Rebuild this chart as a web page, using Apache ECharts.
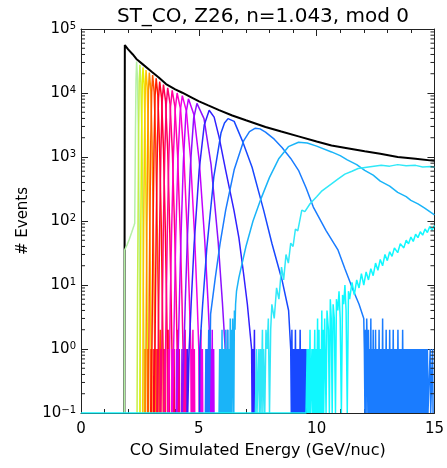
<!DOCTYPE html>
<html>
<head>
<meta charset="utf-8">
<script src="https://cdn.jsdelivr.net/npm/echarts@6/dist/echarts.min.js"></script>
<style>html,body{margin:0;padding:0;background:#fff}#c{width:447px;height:468px}</style>
</head>
<body>
<div id="c"></div>
<script>
// ---------- text ----------
const titleText = 'ST_CO, Z26, n=1.043, mod 0';
const xTitle = 'CO Simulated Energy (GeV/nuc)';
const yTitle = '# Events';
const xTickValues = [0, 5, 10, 15];
const yTickExponents = [-1, 0, 1, 2, 3, 4, 5];

// ---------- series (x = GeV/nuc, y = events; 0.1 = empty bin at the floor) ----------
const total = [[1.84,0.1],[1.85,35],[1.86,56000],[2.0,48000],[2.2,40000],[2.35,34000],[2.6,28500],[3.0,21500],[3.3,17500],[3.61,13800],[4.0,11400],[4.3,10100],[4.7,8500],[5.01,7400],[5.4,6400],[5.86,5400],[6.42,4450],[7.0,3750],[7.83,2950],[8.5,2500],[9.23,2100],[10.0,1750],[10.63,1510],[11.3,1370],[12.04,1230],[12.7,1120],[13.44,1000],[14.2,940],[15,870]];
const c01 = [[1.84,0.1],[1.85,35],[1.95,42],[2.05,52],[2.15,66],[2.25,85],[2.28,92],[2.31,2340],[2.335,16200],[2.36,30900],[2.40,16200],[2.435,2340],[2.47,92],[2.495,7],[2.51,1],[2.52,0.1]];
const c02 = [[2.38,0.1],[2.39,1],[2.40,7],[2.42,88],[2.445,2140],[2.47,14500],[2.50,27500],[2.54,14500],[2.585,2140],[2.63,88],[2.65,7],[2.67,1],[2.68,0.1],[2.70,1],[2.71,0.1]];
const c03 = [[2.50,0.1],[2.51,1],[2.52,6.9],[2.54,84],[2.57,2000],[2.60,13300],[2.63,25100],[2.68,13300],[2.725,2000],[2.77,84],[2.80,6.9],[2.82,1],[2.83,0.1],[2.85,1],[2.86,0.1]];
const c04 = [[2.62,0.1],[2.63,1],[2.64,6.7],[2.66,81],[2.695,1860],[2.73,12200],[2.76,22900],[2.81,12200],[2.865,1860],[2.92,81],[2.95,6.7],[2.97,1],[2.98,0.1],[3.00,1],[3.01,0.1]];
const c05 = [[2.71,0.1],[2.72,1],[2.735,0.1],[2.76,1],[2.775,6.6],[2.795,78],[2.83,1740],[2.865,11200],[2.90,20900],[2.96,11200],[3.015,1740],[3.07,78],[3.105,6.6],[3.13,1],[3.14,0.1],[3.16,1],[3.175,0.1],[3.20,1],[3.215,0.1]];
const c06 = [[2.83,0.1],[2.845,1],[2.86,0.1],[2.88,1],[2.895,6.5],[2.92,75],[2.96,1620],[3.00,10300],[3.04,19100],[3.105,10300],[3.17,1620],[3.235,75],[3.275,6.5],[3.30,1],[3.31,0.1],[3.33,1],[3.345,0.1],[3.37,2],[3.385,0.1]];
const c07 = [[2.96,0.1],[2.975,1],[2.99,0.1],[3.01,1],[3.03,6.4],[3.055,71],[3.10,1480],[3.145,9250],[3.19,17000],[3.26,9250],[3.335,1480],[3.41,71],[3.45,6.4],[3.48,1],[3.49,0.1],[3.515,1],[3.53,0.1],[3.56,1],[3.575,0.1]];
const c08 = [[3.08,0.1],[3.095,1],[3.11,0.1],[3.14,1],[3.16,6.2],[3.19,68],[3.24,1360],[3.29,8300],[3.34,15100],[3.42,8300],[3.50,1360],[3.58,68],[3.63,6.2],[3.66,1],[3.67,0.1],[3.695,2],[3.71,0.1],[3.74,1],[3.755,0.1]];
const c09 = [[3.22,0.1],[3.235,1],[3.25,0.1],[3.28,1],[3.30,6.1],[3.335,64],[3.39,1250],[3.445,7400],[3.50,13500],[3.59,7400],[3.68,1250],[3.77,64],[3.825,6.1],[3.86,1],[3.875,0.1],[3.90,1],[3.915,0.1],[3.95,1],[3.965,0.1]];
const c10 = [[3.36,0.1],[3.375,1],[3.39,0.1],[3.43,1],[3.455,6],[3.49,61],[3.555,1150],[3.62,6700],[3.68,12000],[3.78,6700],[3.88,1150],[3.98,61],[4.04,6],[4.08,1],[4.095,0.1],[4.12,2],[4.135,0.1],[4.17,1],[4.185,0.1]];
const c11 = [[3.52,0.1],[3.535,1],[3.55,0.1],[3.59,1],[3.62,5.9],[3.66,59],[3.73,1070],[3.80,6150],[3.87,11000],[3.985,6150],[4.10,1070],[4.215,59],[4.285,5.9],[4.33,1],[4.345,0.1],[4.37,1],[4.385,0.1],[4.42,2],[4.435,0.1],[4.48,1],[4.495,0.1]];
const c12 = [[3.69,0.1],[3.705,1],[3.72,0.1],[3.76,1],[3.79,5.8],[3.84,56],[3.92,1000],[4.00,5600],[4.08,10000],[4.225,5600],[4.37,1000],[4.515,56],[4.60,5.8],[4.66,1],[4.675,0.1],[4.70,1],[4.715,0.1],[4.75,2],[4.765,0.1],[4.81,1],[4.825,0.1]];
const c13 = [[3.85,0.1],[3.865,1],[3.88,0.1],[3.93,1],[3.97,5.7],[4.02,54],[4.115,930],[4.21,5160],[4.30,9100],[4.475,5160],[4.65,930],[4.825,54],[4.93,5.7],[5.00,1],[5.015,0.1],[5.04,1],[5.055,0.1],[5.09,2],[5.105,0.1],[5.15,1],[5.165,0.1]];
const c14 = [[4.04,0.1],[4.055,1],[4.07,0.1],[4.13,1],[4.175,5.5],[4.24,51],[4.345,850],[4.45,4630],[4.56,8100],[4.79,4630],[5.02,850],[5.25,51],[5.39,5.5],[5.48,1],[5.495,0.1],[5.52,1],[5.535,0.1],[5.57,2],[5.585,0.1],[5.63,1],[5.645,0.1]];
const c15 = [[4.27,0.1],[4.285,1],[4.30,0.1],[4.37,1],[4.425,5.4],[4.51,48],[4.645,760],[4.78,3980],[4.92,6900],[5.22,3980],[5.52,760],[5.82,48],[6.0,5.4],[6.12,1],[6.135,0.1],[6.16,1],[6.175,0.1],[6.21,2],[6.225,0.1],[6.28,1],[6.295,0.1]];
const c16 = [[4.50,0.1],[4.515,1],[4.53,0.1],[4.59,1],[4.675,5.1],[4.80,43],[5.015,630],[5.23,3150],[5.44,5370],[5.65,4200],[5.86,2040],[6.14,620],[6.49,148],[6.7,55],[6.9,15],[7.06,5],[7.24,1],[7.26,0.1],[7.30,1],[7.32,0.1],[7.36,2],[7.38,0.1]];
const c17 = [[5.03,0.1],[5.04,1],[5.16,4.8],[5.34,38],[5.64,500],[5.94,2370],[6.09,3400],[6.24,3980],[6.5,3600],[6.84,1820],[7.26,690],[7.75,148],[8.1,45],[8.53,12],[8.81,4],[8.9,1],[8.925,0.1],[8.95,2],[8.975,0.1],[9.0,1],[9.025,0.1],[9.05,1],[9.075,0.1],[9.1,2],[9.125,0.1],[9.15,1],[9.175,0.1],[9.2,1],[9.225,0.1],[9.25,1],[9.275,0.1],[9.3,2],[9.325,0.1],[9.35,1],[9.375,0.1],[9.4,1],[9.425,0.1],[9.45,1],[9.475,0.1],[9.5,1],[9.525,0.1],[9.55,1],[9.575,0.1],[9.62,1],[9.645,0.1]];
const c18 = [[5.28,0.1],[5.30,1],[5.32,0.1],[5.36,1],[5.38,0.1],[5.42,2],[5.44,0.1],[5.5,3.5],[5.7,13],[5.9,44],[6.14,148],[6.5,630],[6.9,1780],[7.15,2500],[7.40,2820],[7.6,2750],[7.83,2450],[8.2,1900],[8.53,1410],[8.9,950],[9.23,620],[9.55,330],[9.86,165],[10.4,71],[10.91,35],[11.2,18],[11.55,8.3],[11.8,5],[12.0,3],
  [12.025,1],[12.05,0.1],[12.075,2],[12.1,0.1],[12.125,3],[12.15,1],[12.175,0.1],[12.2,2],[12.225,0.1],[12.25,1],[12.275,0.1],[12.3,3],[12.325,0.1],[12.35,1],[12.375,0.1],[12.4,2],[12.425,0.1],[12.45,1],[12.475,0.1],[12.5,2],[12.525,0.1],[12.55,1],[12.575,0.1],[12.6,1],[12.625,0.1],[12.65,2],[12.675,0.1],[12.7,1],[12.725,0.1],[12.75,1],[12.775,0.1],[12.8,3],[12.825,0.1],[12.85,1],[12.875,0.1],[12.9,1],[12.925,0.1],[12.95,2],[12.975,0.1],[13.0,1],[13.025,0.1],[13.05,1],[13.075,0.1],[13.1,2],[13.125,0.1],[13.15,1],[13.175,0.1],[13.2,1],[13.225,0.1],[13.25,2],[13.275,0.1],[13.3,1],[13.325,0.1],[13.35,1],[13.375,0.1],[13.4,1],[13.425,0.1],[13.45,2],[13.475,0.1],[13.5,1],[13.525,0.1],[13.55,1],[13.575,0.1],[13.6,1],[13.625,0.1],[13.65,2],[13.675,0.1],[13.7,1],[13.725,0.1],[13.75,1],[13.775,0.1],[13.8,1],[13.825,0.1],[13.85,1],[13.875,0.1],[13.9,1],[13.925,0.1],[13.95,1],[13.975,0.1],[14.0,1],[14.025,0.1],[14.05,1],[14.075,0.1],[14.1,1],[14.125,0.1],[14.15,1],[14.175,0.1],[14.2,1],[14.225,0.1],[14.25,1],[14.275,0.1],[14.3,1],[14.325,0.1],[14.35,1],[14.375,0.1],[14.4,1],[14.425,0.1],[14.45,1],[14.475,0.1],[14.5,1],[14.525,0.1],[14.55,1],[14.575,0.1],[14.6,1],[14.625,0.1],[14.65,1],[14.675,0.1],[14.7,1],[14.725,0.1],[14.8,0.1],[14.82,1],[14.84,0.1],[14.9,0.1],[14.92,1],[14.94,0.1]];
const c19 = [[5.86,0.1],[5.885,1],[5.91,0.1],[5.935,1],[5.96,0.1],[5.985,2],[6.01,0.1],[6.035,1],[6.06,0.1],[6.085,1],[6.11,0.1],[6.135,2],[6.16,0.1],[6.185,1],[6.21,0.1],[6.235,2],[6.26,0.1],[6.285,1],[6.31,0.1],[6.335,3],[6.36,0.1],[6.385,2],[6.41,0.1],[6.435,3],[6.46,1],[6.485,0.1],[6.51,4],[6.535,2],[6.56,5],[6.6,8],[6.70,13],[7.0,40],[7.3,100],[7.61,210],[8.0,480],[8.4,950],[8.8,1450],[9.23,1700],[9.6,1650],[10.0,1480],[10.63,1200],[11.0,1050],[11.3,900],[11.7,760],[12.04,620],[12.4,520],[12.7,420],[13.1,350],[13.44,280],[13.8,240],[14.0,210],[14.3,185],[14.57,160],[15.0,125]];
const c20 = [[7.40,0.1],[7.45,1],[7.47,0.1],[7.55,1],[7.57,0.1],[7.62,1],[7.64,0.1],[7.70,2],[7.72,0.1],[7.75,1],[7.80,0.1],[7.85,2],[7.90,1],[7.95,3],[8.0,0.1],[8.05,2],[8.1,5],[8.2,3],[8.3,9],[8.4,6],[8.51,19],[8.6,12],[8.7,30],[8.8,22],[8.9,45],[9.0,40],[9.1,75],[9.2,70],[9.37,148],[9.5,140],[9.72,186],[10.0,240],[10.2,290],[10.4,330],[10.63,380],[10.9,450],[11.2,540],[11.5,600],[11.76,660],[12.2,700],[12.74,740],[13.1,720],[13.44,760],[13.8,730],[14.2,740],[14.5,700],[14.85,710],[15.0,690]];
const c21 = [[0,0.1],[9.55,0.1],[9.6,1],[9.62,0.1],[9.66,1],[9.68,0.1],[9.72,2],[9.74,0.1],[9.8,1],[9.82,0.1],[9.86,1],[9.88,0.1],[9.92,2],[9.94,0.1],[9.98,1],[10.0,0.1],[10.04,3],[10.06,0.1],[10.1,2],[10.12,0.1],[10.16,1],[10.18,0.1],[10.22,4],[10.24,0.1],[10.28,2],[10.3,0.1],[10.34,3],[10.36,1],[10.4,0.1],[10.44,4],[10.5,2],[10.54,0.1],[10.58,6],[10.62,3],[10.66,0.1],[10.7,5],[10.75,3],[10.8,0.1],[10.84,6],[10.9,4],[10.95,8],[11.0,3],[11.05,0.1],[11.1,7],[11.15,5],[11.2,10],[11.25,4],[11.3,0.1],[11.35,8],[11.4,6],[11.5,11],[11.6,7],[11.7,12],[11.8,9],[11.9,15],[12.0,10],[12.1,16],[12.2,12],[12.3,18],[12.4,14],[12.5,22],[12.6,17],[12.7,25],[12.8,20],[12.9,30],[13.0,24],[13.1,33],[13.2,28],[13.3,38],[13.44,32],[13.55,44],[13.7,38],[13.8,50],[13.9,44],[14.0,56],[14.1,48],[14.2,62],[14.3,55],[14.4,68],[14.5,60],[14.6,75],[14.7,66],[14.8,82],[14.9,72],[15.0,85]];

const curves = [c01,c02,c03,c04,c05,c06,c07,c08,c09,c10,c11,c12,c13,c14,c15,c16,c17,c18,c19,c20,c21];
const curveColors = ['#b4f0a4','#c4f048','#e6f000','#ffc400','#ff8c00','#ff5400','#ff1e00','#ff0024','#ff004c','#ff0074','#ff009c','#ff00c4','#f000e8','#c000ff','#8c10ff','#3220ff','#1848ff','#1a7cff','#1ab4f8','#30e8f8','#10f8ff'];
const totalColor = '#000000';

// ---------- chart ----------
const FONT = 'DejaVu Sans';
const supMap = v => String(v).replace('-', '\u2212');

const chart = echarts.init(document.getElementById('c'), null, {renderer: 'canvas'});
const axisLineStyle = {color: '#222', width: 1};
const grid = {left: 81, right: 10, top: 29, bottom: 55};

const series = [{
  type: 'line', data: total, symbol: 'none', showSymbol: false, silent: true,
  lineStyle: {color: totalColor, width: 2}, z: 2, xAxisIndex: 0, yAxisIndex: 0
}].concat(curves.map((d, i) => ({
  type: 'line', data: d, symbol: 'none', showSymbol: false, silent: true,
  lineStyle: {color: curveColors[i], width: 1.5}, z: 3, xAxisIndex: 0, yAxisIndex: 0
})));

chart.setOption({
  animation: false,
  backgroundColor: '#ffffff',
  title: {
    text: titleText, left: 258, top: 2, textAlign: 'center',
    textStyle: {fontFamily: FONT, fontSize: 20, fontWeight: 'normal', color: '#000'}
  },
  grid: grid,
  xAxis: [{
    type: 'value', min: 0, max: 15, interval: 5, position: 'bottom',
    name: xTitle, nameLocation: 'middle', nameGap: 30,
    nameTextStyle: {fontFamily: FONT, fontSize: 16, color: '#000'},
    axisLine: {show: true, onZero: false, lineStyle: axisLineStyle},
    axisTick: {show: true, inside: true, length: 7, lineStyle: axisLineStyle},
    minorTick: {show: true, splitNumber: 5, length: 4, lineStyle: axisLineStyle},
    axisLabel: {fontFamily: FONT, fontSize: 15, color: '#000', margin: 9,
      formatter: v => xTickValues.indexOf(v) >= 0 ? String(v) : ''},
    splitLine: {show: false}
  }, {
    type: 'value', min: 0, max: 15, interval: 5, position: 'top',
    axisLine: {show: true, onZero: false, lineStyle: axisLineStyle},
    axisTick: {show: true, inside: true, length: 7, lineStyle: axisLineStyle},
    minorTick: {show: true, splitNumber: 5, length: 4, lineStyle: axisLineStyle},
    axisLabel: {show: false}, splitLine: {show: false}
  }],
  yAxis: [{
    type: 'log', logBase: 10, min: 0.1, max: 100000, position: 'left',
    name: yTitle, nameLocation: 'middle', nameGap: 50, nameRotate: 90,
    nameTextStyle: {fontFamily: FONT, fontSize: 15, color: '#000'},
    axisLine: {show: true, onZero: false, lineStyle: axisLineStyle},
    axisTick: {show: true, inside: true, length: 7, lineStyle: axisLineStyle},
    axisLabel: {
      margin: 5, color: '#000',
      formatter: v => {
        const e = Math.round(Math.log10(v));
        return yTickExponents.indexOf(e) >= 0 ? '{b|10}{s|' + supMap(e) + '}' : '';
      },
      rich: {
        b: {fontFamily: FONT, fontSize: 15, color: '#000'},
        s: {fontFamily: FONT, fontSize: 10, color: '#000', verticalAlign: 'top', lineHeight: 10}
      }
    },
    splitLine: {show: false}
  }, {
    type: 'log', logBase: 10, min: 0.1, max: 100000, position: 'right',
    axisLine: {show: true, onZero: false, lineStyle: axisLineStyle},
    axisTick: {show: true, inside: true, length: 7, lineStyle: axisLineStyle},
    axisLabel: {show: false}, splitLine: {show: false}
  }],
  series: series
});

// log minor ticks (2..9 x 10^n) on left and right frame, placed through the y scale
const xl = chart.convertToPixel({xAxisIndex: 0}, 0);
const xr = chart.convertToPixel({xAxisIndex: 0}, 15);
const ticks = [];
for (let n = -1; n < 5; n++) {
  for (let k = 2; k <= 9; k++) {
    const y = chart.convertToPixel({yAxisIndex: 0}, k * Math.pow(10, n));
    ticks.push({type: 'line', silent: true, shape: {x1: xl, y1: y, x2: xl + 4, y2: y}, style: {stroke: '#222', lineWidth: 1}, z: 50});
    ticks.push({type: 'line', silent: true, shape: {x1: xr - 4, y1: y, x2: xr, y2: y}, style: {stroke: '#222', lineWidth: 1}, z: 50});
  }
}
chart.setOption({graphic: {elements: ticks}});
</script>
</body>
</html>
